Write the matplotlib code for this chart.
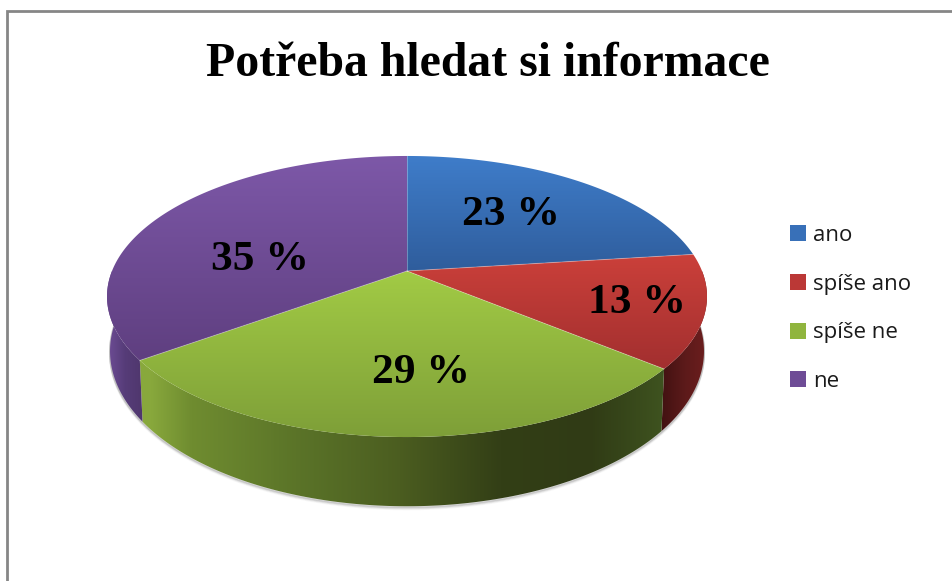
import numpy as np
import matplotlib
matplotlib.use('Agg')
import matplotlib.pyplot as plt
from matplotlib.colors import LinearSegmentedColormap
from matplotlib.patches import Patch, Polygon

# Data
categories = ['ano', 'spíše ano', 'spíše ne', 'ne']
values = [23, 13, 29, 35]
value_labels = ['23 %', '13 %', '29 %', '35 %']

# Colours of the top faces (upper edge, lower edge) and legend swatches
top_colors = [('#3f7dca', '#2f5d9c'), ('#cb403a', '#a22f2f'), ('#a2cb45', '#7e9f38'), ('#7d58a8', '#5f3f80')]
legend_colors = ['#3870b8', '#bb3836', '#90b53e', '#6e4c96']
# Side wall colours, left to right, as (x position, colour)
wall_stops = [
    [(0, '#2f5d9c'), (1, '#2f5d9c')],
    [(663, '#431212'), (685, '#5c1a1a'), (705, '#6b1e1e')],
    [(150, '#88a83c'), (190, '#6f8c30'), (300, '#5a7328'), (400, '#4b5d20'), (500, '#333f16'), (590, '#303b15'), (668, '#3f5420')],
    [(107, '#6e4d96'), (125, '#563c78'), (150, '#4c3468')],
]
label_pos = [(511, 215), (637, 303), (421, 373), (260, 260)]

# Pie geometry in pixels
cx, cy = 407, 271
top_xs, top_ys, persp = 295, 135.9, 0.1815
wall_scale, wall_ys, wall_dy = 0.99, 150, 52


def project(theta, scale=1.0, ys=top_ys, dy=0):
    # theta is clockwise from the top of the circle, perspective squeezes the far side
    u, v = np.sin(theta), np.cos(theta)
    w = 1 + persp * v
    return cx + scale * top_xs * u / w, cy + dy - ys * v / w


fig = plt.figure(figsize=(9.53, 5.81), dpi=100)
ax = fig.add_axes([0, 0, 1, 1])
ax.set_xlim(0, 953)
ax.set_ylim(581, 0)
ax.axis('off')
ax.set_autoscale_on(False)

# Frame: only left and top edges are in the picture
ax.plot([7, 7, 953], [581, 11, 11], color='#868686', lw=2, solid_joinstyle='miter')

edges = np.cumsum([0] + values) / sum(values) * 2 * np.pi
vis_a, vis_b = np.pi / 2, 3 * np.pi / 2

# Soft shadow under the wall
t = np.linspace(vis_a, vis_b, 300)
bx, by = project(t, wall_scale, wall_ys, wall_dy)
for off, alpha in [(3.0, 0.05), (2.2, 0.09), (1.4, 0.14), (0.7, 0.2)]:
    ax.plot(bx, by + off, color='#666666', alpha=alpha, lw=1.5)

# Side walls
for i in range(len(values)):
    a, b = max(edges[i], vis_a), min(edges[i + 1], vis_b)
    if a >= b:
        continue
    t = np.linspace(a, b, 200)
    x1, y1 = project(t)
    x2, y2 = project(t[::-1], wall_scale, wall_ys, wall_dy)
    poly = Polygon(np.column_stack([np.r_[x1, x2], np.r_[y1, y2]]), closed=True, fc='none', ec='none')
    ax.add_patch(poly)
    stops = wall_stops[i]
    lo, hi = stops[0][0], stops[-1][0]
    cmap = LinearSegmentedColormap.from_list('w', [((p - lo) / (hi - lo), c) for p, c in stops])
    xmin, xmax = min(x1.min(), x2.min()), max(x1.max(), x2.max())
    xs = np.linspace(xmin, xmax, 256)
    grad = np.clip((xs - lo) / (hi - lo), 0, 1).reshape(1, -1)
    im = ax.imshow(grad, cmap=cmap, vmin=0, vmax=1, aspect='auto', extent=(xmin, xmax, y2.max() + 1, min(y1.min(), y2.min()) - 1), zorder=2)
    im.set_clip_path(poly)

# Top faces with a vertical gradient in each slice
for i in range(len(values)):
    t = np.linspace(edges[i], edges[i + 1], 200)
    x, y = project(t)
    x = np.r_[cx, x]
    y = np.r_[cy, y]
    poly = Polygon(np.column_stack([x, y]), closed=True, fc='none', ec='none', zorder=3)
    ax.add_patch(poly)
    cmap = LinearSegmentedColormap.from_list('t', list(top_colors[i]))
    grad = np.linspace(0, 1, 256).reshape(-1, 1)
    im = ax.imshow(grad, cmap=cmap, aspect='auto', extent=(x.min(), x.max(), y.max(), y.min()), zorder=3)
    im.set_clip_path(poly)
    ax.plot(x[:2], y[:2], color='white', alpha=0.3, lw=0.7, zorder=4)

# Value labels
for (lx, ly), txt in zip(label_pos, value_labels):
    ax.text(lx, ly, txt, family='Liberation Serif', weight='bold', fontsize=31.3, color='black',
            ha='center', va='center', zorder=5)

ax.text(487.5, 76, 'Potřeba hledat si informace', family='Liberation Serif', weight='bold',
        fontsize=34.4, color='black', ha='center', va='baseline')

handles = [Patch(facecolor=c, edgecolor='none') for c in legend_colors]
leg = ax.legend(handles, categories, loc='center left', bbox_to_anchor=(790 / 953, 1 - 308.5 / 581), frameon=False,
                prop={'family': 'Open Sans', 'size': 16}, handlelength=0.73, handleheight=0.73, handletextpad=0.32,
                labelspacing=1.25, borderpad=0, borderaxespad=0)
for text in leg.get_texts():
    text.set_color('#1a1a1a')

fig.savefig('out.png', dpi=100)
